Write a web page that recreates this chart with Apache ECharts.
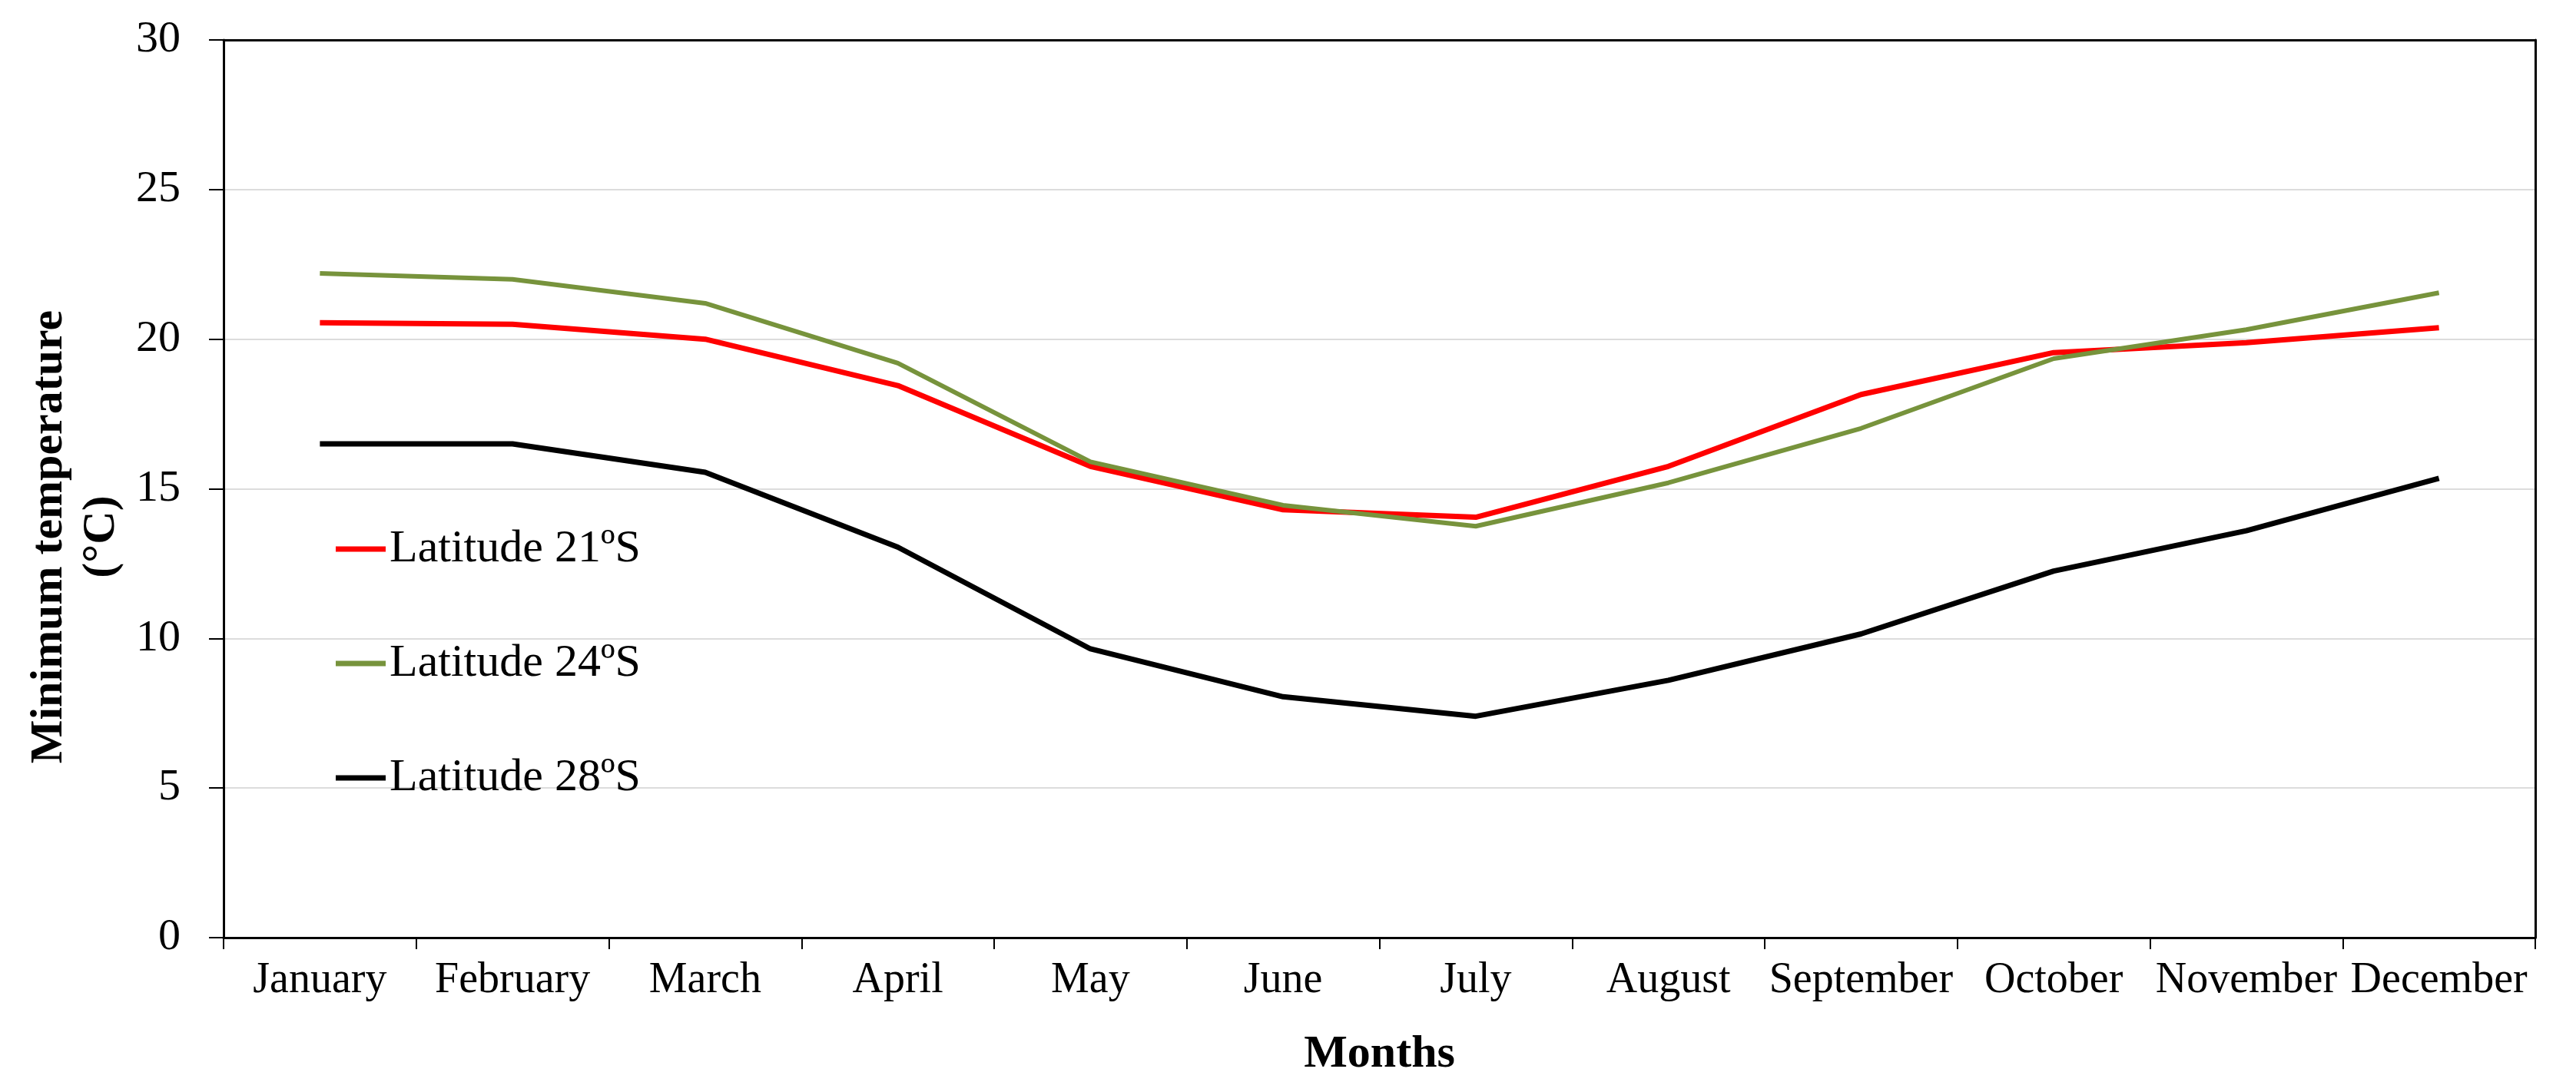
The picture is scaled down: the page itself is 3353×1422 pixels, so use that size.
<!DOCTYPE html>
<html>
<head>
<meta charset="utf-8">
<script src="https://cdn.jsdelivr.net/npm/echarts@6/dist/echarts.min.js"></script>
<style>
html,body{margin:0;padding:0;background:#fff;}
#chart{width:3353px;height:1422px;}
</style>
</head>
<body>
<div id="chart"></div>
<script>
var months = ['January','February','March','April','May','June','July','August','September','October','November','December'];
var lat21 = [20.55, 20.5, 20.0, 18.45, 15.75, 14.3, 14.05, 15.75, 18.15, 19.55, 19.88, 20.38];
var lat24 = [22.2, 22.0, 21.2, 19.2, 15.9, 14.45, 13.75, 15.2, 17.02, 19.35, 20.32, 21.55];
var lat28 = [16.5, 16.5, 15.55, 13.05, 9.65, 8.05, 7.4, 8.6, 10.15, 12.25, 13.6, 15.35];
var yTicks = { min: 0, max: 30, interval: 5 };
var seriesNames = ['Latitude 21ºS', 'Latitude 24ºS', 'Latitude 28ºS'];

var FONT = '"Liberation Serif", "Times New Roman", Times, serif';
var chart = echarts.init(document.getElementById('chart'), null, {renderer: 'canvas'});
var option = {
  backgroundColor: '#fff',
  animation: false,
  grid: { left: 291, right: 53, top: 52, bottom: 201 },
  legend: {
    orient: 'vertical',
    left: 432,
    top: 680,
    itemWidth: 65,
    itemHeight: 7,
    itemGap: 89,
    icon: 'rect',
    textStyle: { fontFamily: FONT, fontSize: 60, color: '#000', lineHeight: 60 },
    data: seriesNames
  },
  xAxis: [{
    type: 'category',
    data: months,
    boundaryGap: true,
    name: 'Months',
    nameLocation: 'middle',
    nameGap: 122,
    nameTextStyle: { fontFamily: FONT, fontSize: 60, fontWeight: 'bold', color: '#000' },
    axisLine: { onZero: false, lineStyle: { color: '#000', width: 3 } },
    axisTick: { show: true, length: 15, lineStyle: { color: '#000', width: 2 } },
    axisLabel: { fontFamily: FONT, fontSize: 56, color: '#000', margin: 28, interval: 0 },
    splitLine: { show: false }
  }, {
    type: 'category',
    data: months,
    position: 'top',
    boundaryGap: true,
    axisLine: { show: true, onZero: false, lineStyle: { color: '#000', width: 3 } },
    axisTick: { show: false },
    axisLabel: { show: false },
    splitLine: { show: false }
  }],
  yAxis: [{
    type: 'value',
    min: yTicks.min,
    max: yTicks.max,
    interval: yTicks.interval,
    axisLine: { show: true, onZero: false, lineStyle: { color: '#000', width: 3 } },
    axisTick: { show: true, length: 19, lineStyle: { color: '#000', width: 2 } },
    axisLabel: { fontFamily: FONT, fontSize: 58, color: '#000', margin: 56 },
    splitLine: { show: true, lineStyle: { color: '#dcdcdc', width: 2 } }
  }, {
    type: 'value',
    position: 'right',
    min: yTicks.min,
    max: yTicks.max,
    interval: yTicks.interval,
    axisLine: { show: true, onZero: false, lineStyle: { color: '#000', width: 3 } },
    axisTick: { show: false },
    axisLabel: { show: false },
    splitLine: { show: false }
  }],
  graphic: [{
    type: 'text',
    x: 98,
    y: 699,
    rotation: Math.PI / 2,
    style: {
      text: 'Minimum temperature\n(°C)',
      fontFamily: FONT,
      fontSize: 60,
      fontWeight: 'bold',
      fill: '#000',
      align: 'center',
      verticalAlign: 'middle',
      lineHeight: 68
    }
  }],
  series: [
    { name: seriesNames[0], type: 'line', data: lat21, symbol: 'none', lineStyle: { color: '#ff0000', width: 7 }, itemStyle: { color: '#ff0000' }, z: 3 },
    { name: seriesNames[1], type: 'line', data: lat24, symbol: 'none', lineStyle: { color: '#77933c', width: 6 }, itemStyle: { color: '#77933c' }, z: 4 },
    { name: seriesNames[2], type: 'line', data: lat28, symbol: 'none', lineStyle: { color: '#000000', width: 7 }, itemStyle: { color: '#000000' }, z: 2 }
  ]
};
chart.setOption(option);
</script>
</body>
</html>
